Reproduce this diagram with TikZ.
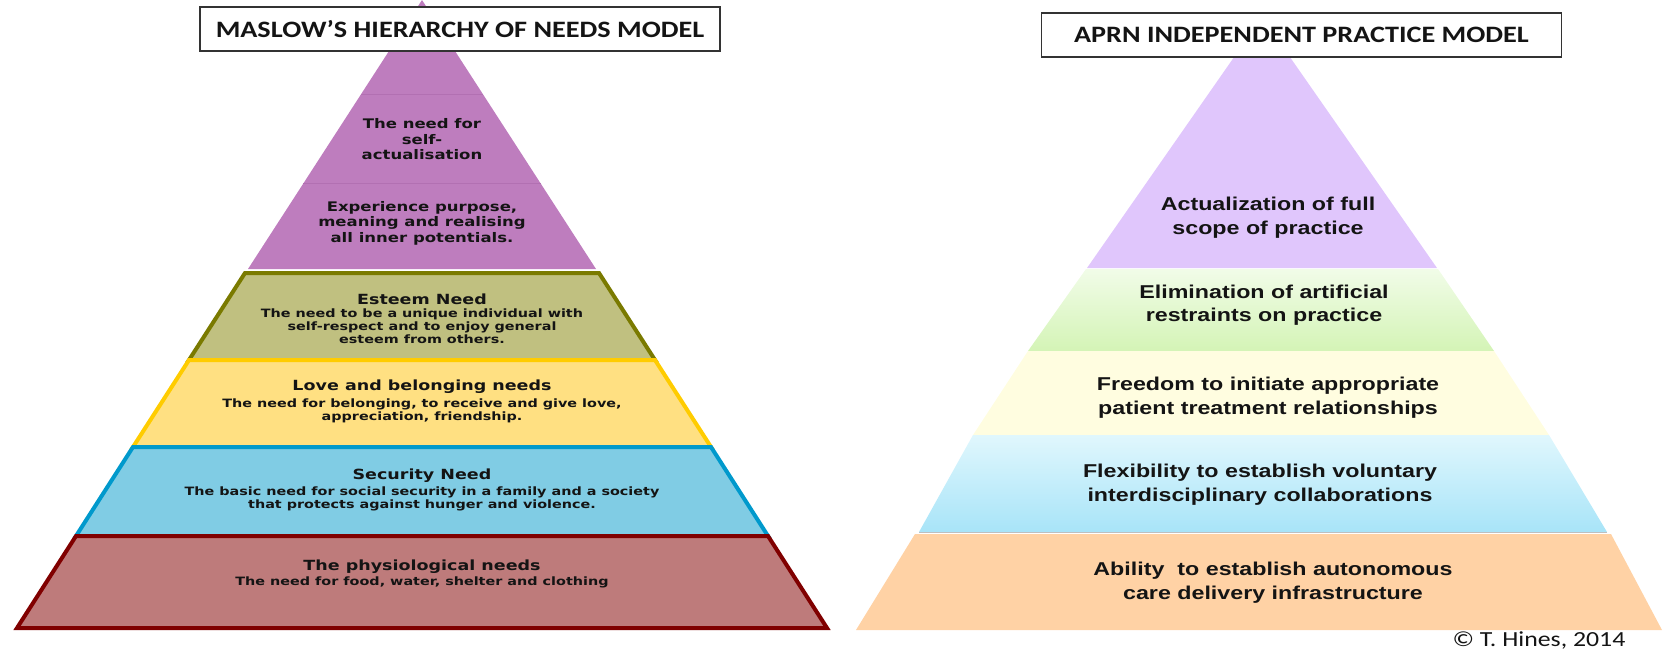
\documentclass[tikz,border=0pt]{standalone}
\usepackage{fontspec}
\newfontfamily\verd[FakeStretch=1.25]{DejaVu Sans}
\newfontfamily\arialb[FakeStretch=1.25]{Liberation Sans}
\newfontfamily\calib[FakeStretch=1.2]{Carlito}
\definecolor{purp}{RGB}{190,125,190}
\definecolor{purpline}{RGB}{178,112,178}
\definecolor{estf}{RGB}{192,192,128}
\definecolor{estd}{RGB}{122,122,0}
\definecolor{lovf}{RGB}{255,224,130}
\definecolor{lovd}{RGB}{255,204,0}
\definecolor{secf}{RGB}{128,204,228}
\definecolor{secd}{RGB}{0,153,204}
\definecolor{phyf}{RGB}{190,123,123}
\definecolor{phyd}{RGB}{128,0,0}
\definecolor{lav}{RGB}{224,198,252}
\definecolor{grnA}{RGB}{241,252,232}
\definecolor{grnB}{RGB}{212,244,182}
\definecolor{yel}{RGB}{255,253,224}
\definecolor{bluA}{RGB}{224,247,253}
\definecolor{bluB}{RGB}{168,228,248}
\definecolor{org}{RGB}{255,210,165}
\definecolor{txt}{RGB}{20,20,20}
\tikzset{
  tier/.style={line width=4pt, line join=miter},
  ltitle/.style={draw=black!80, line width=1.5pt, fill=white, minimum width=520pt, minimum height=44pt, inner sep=0pt,
    font=\calib\bfseries\fontsize{23.5}{26}\selectfont, text=txt},
  lhead/.style={align=center, text=txt, inner sep=0pt, font=\verd\bfseries\fontsize{14}{15}\selectfont},
  lbody/.style={align=center, text=txt, inner sep=0pt, font=\verd\bfseries\fontsize{11.5}{13}\selectfont},
  ptext/.style={align=center, text=txt, inner sep=0pt, font=\verd\bfseries\fontsize{13.2}{15.5}\selectfont},
  rtext/.style={align=center, text=txt, inner sep=0pt, font=\arialb\bfseries\fontsize{18.6}{23.5}\selectfont},
}
\begin{document}
\begin{tikzpicture}[x=1pt,y=-1pt]
\useasboundingbox (0,0) rectangle (1663,653);
% ---------------- left pyramid ----------------
\fill[purp] (422,0) -- (596,269) -- (248,269) -- cycle;
\draw[purpline, line width=0.8pt] (361,94) -- (483,94);
\draw[purpline, line width=0.8pt] (303,183) -- (541,183);
\draw[tier, draw=estd, fill=estf] (245,273) -- (599,273) -- (655,360) -- (189,360) -- cycle;
\draw[tier, draw=lovd, fill=lovf] (189,360) -- (655,360) -- (711,447) -- (133,447) -- cycle;
\draw[tier, draw=secd, fill=secf] (133,447) -- (711,447) -- (768,536) -- (76,536) -- cycle;
\draw[tier, draw=phyd, fill=phyf] (76,536) -- (768,536) -- (827,628) -- (17,628) -- cycle;
\node[ptext] (p1) at (422,139.5) {The need for\\self-\\actualisation};
\node[ptext] (p2) at (422,223) {Experience purpose,\\meaning and realising\\all inner potentials.};
\node[lhead] (eh) at (422,299) {Esteem Need};
\node[lbody] (eb) at (422,326.5) {The need to be a unique individual with\\self-respect and to enjoy general\\esteem from others.};
\node[lhead] (lh) at (422,387) {Love and belonging needs};
\node[lbody] (lb) at (422,410.5) {The need for belonging, to receive and give love,\\appreciation, friendship.};
\node[lhead] (sh) at (422,476) {Security Need};
\node[lbody] (sb) at (422,499) {The basic need for social security in a family and a society\\that protects against hunger and violence.};
\node[lhead] (ph) at (422,567) {The physiological needs};
\node[lbody] (pb) at (422,582.5) {The need for food, water, shelter and clothing};
\node[ltitle] (lt) at (460,29) {MASLOW’S HIERARCHY OF NEEDS MODEL};
% ---------------- right pyramid ----------------
\fill[lav] (1262,17) -- (1437,268) -- (1087,268) -- cycle;
\shade[top color=grnA, bottom color=grnB] (1086,269) -- (1438,269) -- (1494,351) -- (1028,351) -- cycle;
\fill[yel] (1028,351) -- (1494,351) -- (1549,435) -- (973,435) -- cycle;
\shade[top color=bluA, bottom color=bluB] (973,435) -- (1549,435) -- (1607,532) -- (919,532) -- cycle;
\draw[black!25, line width=1pt] (919,532.5) -- (1607,532.5);
\fill[org] (915,534) -- (1611,534) -- (1662,630) -- (856,630) -- cycle;
\node[rtext] (r1) at (1268,217.5) {Actualization of full\\scope of practice};
\node[rtext] (r2) at (1264,305) {Elimination of artificial\\restraints on practice};
\node[rtext] (r3) at (1268,397.5) {Freedom to initiate appropriate\\patient treatment relationships};
\node[rtext] (r4) at (1260,484.5) {Flexibility to establish voluntary\\interdisciplinary collaborations};
\node[rtext] (r5) at (1273,582.5) {Ability\ \ to establish autonomous\\care delivery infrastructure};
\node[ltitle] (rt) at (1301.5,35) {APRN INDEPENDENT PRACTICE MODEL};
\node[inner sep=0pt, text=txt, font=\calib\fontsize{21.5}{23}\selectfont] (cp) at (1539,640) {© T. Hines, 2014};
\end{tikzpicture}
\end{document}
